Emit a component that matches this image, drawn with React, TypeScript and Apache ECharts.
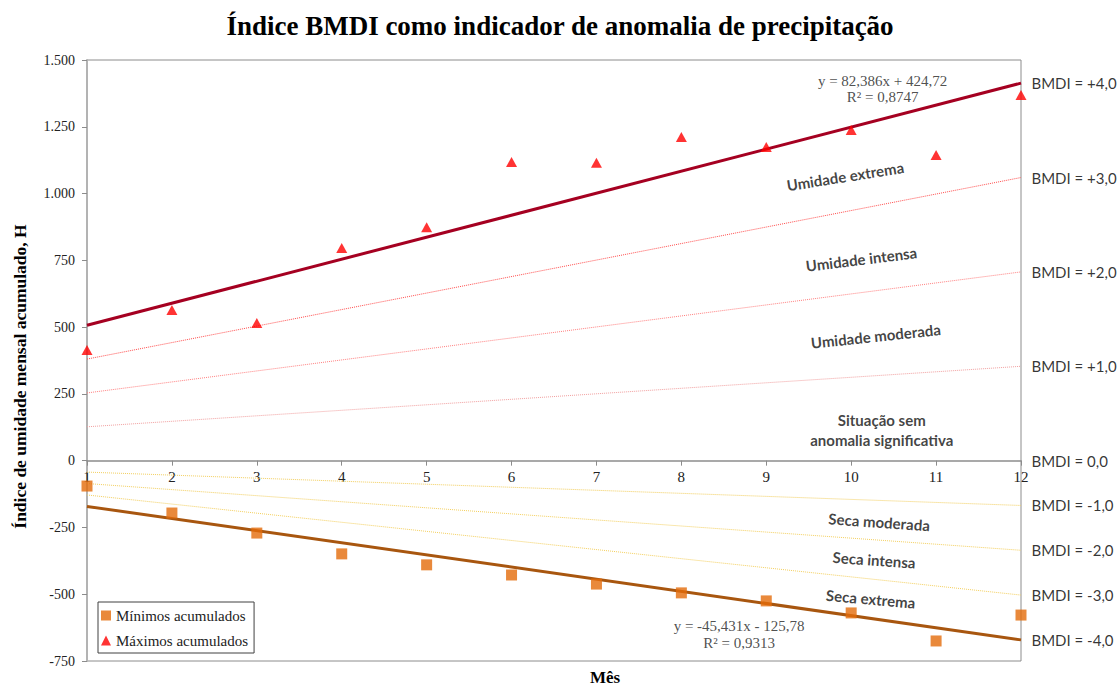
import React, { useEffect, useRef } from "react";
import * as echarts from "echarts";

const MONTHS = [1, 2, 3, 4, 5, 6, 7, 8, 9, 10, 11, 12];
const MAX_ACC = [414, 564, 515, 796, 874, 1118, 1115, 1212, 1174, 1238, 1144, 1369];
const MIN_ACC = [-95, -196, -271, -349, -390, -428, -462, -495, -525, -570, -675, -578];

const MAX_SLOPE = 82.386;
const MAX_INTERCEPT = 424.72;
const MIN_SLOPE = -45.431;
const MIN_INTERCEPT = -125.78;

const BMDI_LEVELS = [4, 3, 2, 1, 0, -1, -2, -3, -4];
const BMDI_LABELS = ["BMDI = +4,0", "BMDI = +3,0", "BMDI = +2,0", "BMDI = +1,0", "BMDI = 0,0", "BMDI = -1,0", "BMDI = -2,0", "BMDI = -3,0", "BMDI = -4,0"];

const ZONE_TEXTS = ["Umidade extrema", "Umidade intensa", "Umidade moderada", "Situação sem\nanomalia significativa", "Seca moderada", "Seca intensa", "Seca extrema"];
const ZONE_X = [9.93, 10.12, 10.29, 10.36, 10.33, 10.27, 10.23];
const ZONE_Y = [1065, 755, 467, 115, -229, -371, -517];
const ZONE_ROT = [9, 7, 6, 0, -4, -4, -5];

const EQ_TEXTS = ["y = 82,386x + 424,72", "R² = 0,8747", "y = -45,431x - 125,78", "R² = 0,9313"];
const EQ_X = [10.37, 10.37, 8.68, 8.68];
const EQ_Y = [1421, 1361, -619, -684];

const Y_MIN = -750;
const Y_MAX = 1500;
const Y_INTERVAL = 250;

const GRID_TOP = 60;
const GRID_BOTTOM = 27;
const CHART_H = 688;

const SERIF = "'Liberation Serif', 'Times New Roman', serif";
const SANS = "Lato, 'Open Sans', sans-serif";

function bmdiValue(level: number, x: number): number {
  if (level > 0) return (level / 4) * (MAX_SLOPE * x + MAX_INTERCEPT);
  if (level < 0) return (-level / 4) * (MIN_SLOPE * x + MIN_INTERCEPT);
  return 0;
}

function lineStyleFor(level: number) {
  switch (level) {
    case 4: return { color: "#A50021", width: 3, type: "solid" };
    case 3: return { color: "#FF4D4D", width: 1, type: "dotted" };
    case 2: return { color: "#FF8080", width: 1, type: "dotted" };
    case 1: return { color: "#F2A0A0", width: 1, type: "dotted" };
    case 0: return { color: "rgba(0,0,0,0)", width: 0, type: "solid" };
    case -4: return { color: "#A8560F", width: 3, type: "solid" };
    default: return { color: "#F3CF5E", width: 1, type: "dotted" };
  }
}

function fmtThousands(v: number): string {
  const s = Math.abs(v).toString().replace(/\B(?=(\d{3})+(?!\d))/g, ".");
  return (v < 0 ? "-" : "") + s;
}

export default function App() {
  const ref = useRef<HTMLDivElement>(null);
  useEffect(() => {
    if (!ref.current) return;
    const chart = echarts.init(ref.current, null, { renderer: "svg" });
    const x0 = MONTHS[0];
    const x1 = MONTHS[MONTHS.length - 1];
    const gridH = CHART_H - GRID_TOP - GRID_BOTTOM;
    const zeroOffset = -((0 - Y_MIN) / (Y_MAX - Y_MIN)) * gridH;

    const bmdiSeries: any[] = BMDI_LEVELS.map((lv) => ({
      type: "line",
      name: "bmdi" + lv,
      data: [[x0, bmdiValue(lv, x0)], [x1, bmdiValue(lv, x1)]],
      symbol: "none",
      lineStyle: lineStyleFor(lv),
      z: Math.abs(lv) === 4 ? 3 : 2,
      silent: true,
      animation: false,
    }));

    const option: any = {
      animation: false,
      backgroundColor: "#ffffff",
      title: {
        text: "Índice BMDI como indicador de anomalia de precipitação",
        left: "center",
        top: 7,
        textStyle: { fontFamily: SERIF, fontSize: 27, fontWeight: "bold", color: "#000" },
      },
      graphic: [
        {
          type: "text",
          x: 605,
          y: 677,
          style: { text: "Mês", fontFamily: SERIF, fontSize: 17, fontWeight: "bold", fill: "#000", textAlign: "center", textVerticalAlign: "middle" },
        },
      ],
      grid: { left: 87, right: 99, top: GRID_TOP, bottom: GRID_BOTTOM, show: true, borderColor: "#8C8C8C", borderWidth: 1, backgroundColor: "transparent" },
      legend: {
        data: ["Mínimos acumulados", "Máximos acumulados"],
        orient: "vertical",
        left: 98,
        top: 602,
        itemWidth: 10,
        itemHeight: 10,
        itemGap: 10,
        padding: [6, 6, 5, 3],
        borderColor: "#404040",
        borderWidth: 1,
        backgroundColor: "#fff",
        textStyle: { fontFamily: SERIF, fontSize: 15, color: "#222" },
      },
      xAxis: {
        type: "value",
        min: 1,
        max: 12,
        interval: 1,
        position: "bottom",
        offset: zeroOffset,
        axisLine: { onZero: false, lineStyle: { color: "#8C8C8C", width: 1.5 } },
        axisTick: { show: true, length: 5, lineStyle: { color: "#8C8C8C" } },
        axisLabel: { fontFamily: SERIF, fontSize: 15, color: "#222", margin: 9 },
        splitLine: { show: false },
      },
      yAxis: {
        type: "value",
        min: Y_MIN,
        max: Y_MAX,
        interval: Y_INTERVAL,
        name: "Índice de umidade mensal acumulado, H",
        nameLocation: "middle",
        nameGap: 58,
        nameTextStyle: { fontFamily: SERIF, fontSize: 17.5, fontWeight: "bold", color: "#000", padding: [0, 32, 0, 0] },
        axisLine: { show: true, onZero: false, lineStyle: { color: "#B3B3B3", width: 2 } },
        axisTick: { show: true, length: 5, lineStyle: { color: "#8C8C8C" } },
        axisLabel: { fontFamily: SERIF, fontSize: 14, color: "#222", margin: 12, formatter: (v: number) => fmtThousands(v) },
        splitLine: { show: false },
      },
      series: [
        ...bmdiSeries,
        {
          type: "scatter",
          name: "Mínimos acumulados",
          data: MONTHS.map((m, i) => [m, MIN_ACC[i]]),
          symbol: "rect",
          symbolSize: 11,
          itemStyle: { color: "#E46C0A" },
          clip: false,
          z: 5,
        },
        {
          type: "scatter",
          name: "Máximos acumulados",
          data: MONTHS.map((m, i) => [m, MAX_ACC[i]]),
          symbol: "triangle",
          symbolSize: [11, 10],
          itemStyle: { color: "#FF0000" },
          clip: false,
          z: 5,
        },
        {
          type: "scatter",
          name: "bmdiLabels",
          data: BMDI_LEVELS.map((lv, i) => ({
            value: [x1, bmdiValue(lv, x1)],
            label: { show: true, position: "right", distance: 10, formatter: BMDI_LABELS[i] },
          })),
          symbolSize: 1,
          itemStyle: { color: "rgba(0,0,0,0)" },
          label: { fontFamily: SANS, fontSize: 15, color: "#000" },
          clip: false,
          silent: true,
          z: 6,
        },
        {
          type: "scatter",
          name: "zones",
          data: ZONE_TEXTS.map((t, i) => ({
            value: [ZONE_X[i], ZONE_Y[i]],
            label: { show: true, position: "inside", rotate: ZONE_ROT[i], formatter: t },
          })),
          symbolSize: 1,
          itemStyle: { color: "rgba(0,0,0,0)" },
          label: { fontFamily: SANS, fontSize: 15, fontWeight: "bold", color: "#111", align: "center", verticalAlign: "middle", lineHeight: 20 },
          clip: false,
          silent: true,
          z: 6,
        },
        {
          type: "scatter",
          name: "equations",
          data: EQ_TEXTS.map((t, i) => ({
            value: [EQ_X[i], EQ_Y[i]],
            label: { show: true, position: "inside", formatter: t },
          })),
          symbolSize: 1,
          itemStyle: { color: "rgba(0,0,0,0)" },
          label: { fontFamily: SERIF, fontSize: 15, color: "#222", align: "center", verticalAlign: "middle" },
          clip: false,
          silent: true,
          z: 6,
        },
      ],
    };
    chart.setOption(option);
    return () => chart.dispose();
  }, []);
  return <div ref={ref} style={{ position: "fixed", left: 0, top: 0, width: 1120, height: 688, background: "#fff" }} />;
}
